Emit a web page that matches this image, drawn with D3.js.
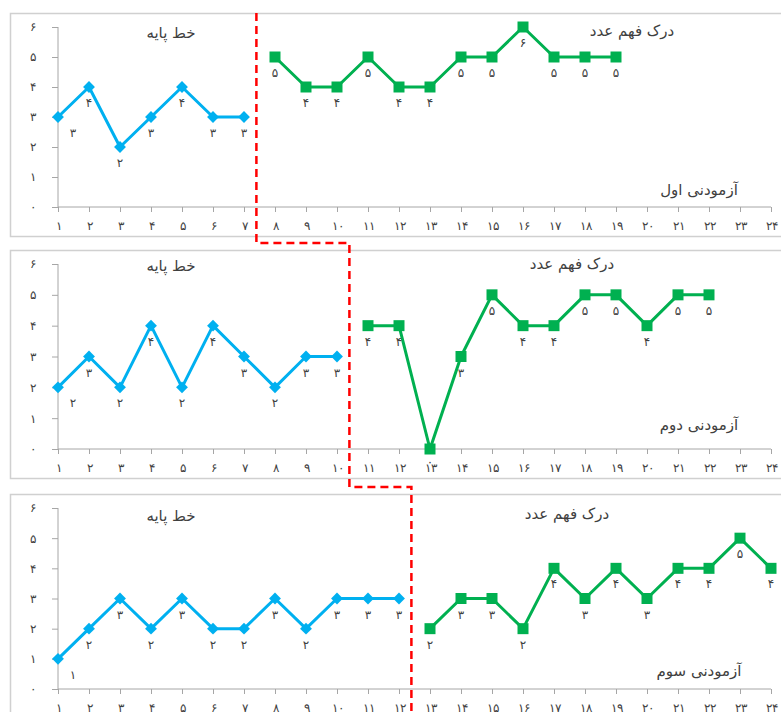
<!DOCTYPE html>
<html>
<head>
<meta charset="utf-8">
<script src="https://cdn.jsdelivr.net/npm/d3@7"></script>
<style>
  body { margin: 0; background: #fff; }
  svg { display: block; font-family: "DejaVu Sans", sans-serif; }
  .axis path, .axis line { stroke: #a6a6a6; }
  .axis text { fill: #404040; font-size: 12px; }
</style>
</head>
<body>
<div class="chart"></div>
<script>
// sessions on the x axis
const sessions = d3.range(1, 25);
const yTicks = [0, 1, 2, 3, 4, 5, 6];

// baseline (blue) and intervention (green) scores per subject
const base1 = [3, 4, 2, 3, 4, 3, 3];
const treat1 = [5, 4, 4, 5, 4, 4, 5, 5, 6, 5, 5, 5];
const base2 = [2, 3, 2, 4, 2, 4, 3, 2, 3, 3];
const treat2 = [4, 4, 0, 3, 5, 4, 4, 5, 5, 4, 5, 5];
const base3 = [1, 2, 3, 2, 3, 2, 2, 3, 2, 3, 3, 3];
const treat3 = [2, 3, 3, 2, 4, 3, 4, 3, 4, 4, 5, 4];

const subjects = ["آزمودنی اول", "آزمودنی دوم", "آزمودنی سوم"];
const baseTitle = "خط پایه";
const treatTitle = "درک فهم عدد";

const fa = function(n) {
    return String(n).replace(/\d/g, function(c) { return "۰۱۲۳۴۵۶۷۸۹"[+c]; });
};

var width = 781, height = 712;
var blue = "#00b0f0", green = "#00b050";

var svg = d3.select(".chart").append("svg")
    .attr("width", width)
    .attr("height", height);

var x = d3.scaleLinear().domain([1, 24]).range([58, 771]);

// box top/bottom, plot top/bottom, text positions for each panel
var panels = [
    { base: base1, treat: treat1, box: [13, 236], plot: [27, 207], tTitle: 632, tY: 38, sY: 195 },
    { base: base2, treat: treat2, box: [250, 478], plot: [264, 449], tTitle: 572, tY: 271, sY: 430 },
    { base: base3, treat: treat3, box: [494, 740], plot: [508, 689], tTitle: 567, tY: 521, sY: 676 }
];

panels.forEach(function(p, k) {
    var g = svg.append("g");

    g.append("rect")
        .attr("x", 10.5).attr("y", p.box[0] + 0.5)
        .attr("width", 790).attr("height", p.box[1] - p.box[0])
        .attr("fill", "none")
        .attr("stroke", "#d0d0d0")
        .attr("stroke-width", 1.5);

    var y = d3.scaleLinear().domain([0, 6]).range([p.plot[1], p.plot[0]]);

    g.append("g")
        .attr("class", "axis")
        .attr("transform", "translate(58,0)")
        .call(d3.axisLeft(y).tickValues(yTicks).tickSize(6).tickPadding(16).tickFormat(fa))
        .call(function(a) { a.select(".domain").attr("d", "M0," + y(0) + "V" + y(6)); });

    g.append("g")
        .attr("class", "axis")
        .attr("transform", "translate(0," + y(0) + ")")
        .call(d3.axisBottom(x).tickValues(sessions).tickSize(5).tickPadding(9).tickFormat(fa))
        .call(function(a) { a.select(".domain").attr("d", "M" + x(1) + ",0H" + x(24)); });

    var baseData = p.base.map(function(v, i) { return { s: i + 1, v: v }; });
    var treatData = p.treat.map(function(v, i) { return { s: p.base.length + i + 1, v: v }; });

    var line = d3.line()
        .x(function(d) { return x(d.s); })
        .y(function(d) { return y(d.v); });

    [[baseData, blue, 70, 45], [treatData, green, 121, 0]].forEach(function(s) {
        g.append("path")
            .datum(s[0])
            .attr("d", line)
            .attr("fill", "none")
            .attr("stroke", s[1])
            .attr("stroke-width", 3)
            .attr("stroke-linejoin", "round");

        g.selectAll(null)
            .data(s[0])
            .enter()
            .append("path")
            .attr("d", d3.symbol(d3.symbolSquare, s[2]))
            .attr("transform", function(d) {
                return "translate(" + x(d.s) + "," + y(d.v) + ") rotate(" + s[3] + ")";
            })
            .attr("fill", s[1]);

        g.selectAll(null)
            .data(s[0])
            .enter()
            .append("text")
            .attr("x", function(d) { return x(d.s) + (d.s === 1 ? 15 : 0); })
            .attr("y", function(d) { return y(d.v) + (d.v === 0 ? 17 : 20); })
            .attr("text-anchor", "middle")
            .attr("font-size", "12px")
            .attr("fill", "#404040")
            .text(function(d) { return fa(d.v); });
    });

    g.append("text")
        .attr("x", 171).attr("y", p.tY)
        .attr("text-anchor", "middle")
        .attr("font-size", "15px")
        .attr("fill", "#404040")
        .text(baseTitle);

    g.append("text")
        .attr("x", p.tTitle).attr("y", p.tY - 2)
        .attr("text-anchor", "middle")
        .attr("font-size", "15px")
        .attr("fill", "#404040")
        .text(treatTitle);

    g.append("text")
        .attr("x", 699).attr("y", p.sY)
        .attr("text-anchor", "middle")
        .attr("font-size", "15px")
        .attr("fill", "#404040")
        .text(subjects[k]);
});

// phase change line across the three panels
var xa = x(base1.length + 0.4), xb = x(base2.length + 0.4), xc = x(base3.length + 0.4);
svg.append("path")
    .attr("d", "M" + xa + ",13V243H" + xb + "V487H" + xc + "V712")
    .attr("fill", "none")
    .attr("stroke", "#ff0000")
    .attr("stroke-width", 2.5)
    .attr("stroke-dasharray", "8,5");
</script>
</body>
</html>
